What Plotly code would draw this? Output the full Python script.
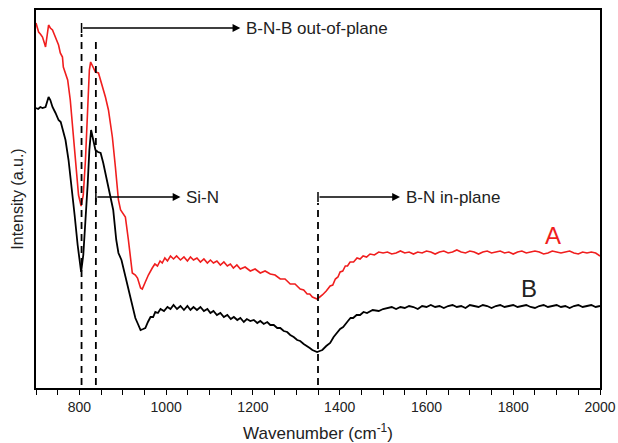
import plotly.graph_objects as go

# ---------------- data ----------------
wn_a = [700, 706, 710, 715, 720, 722, 729, 733, 738, 745, 752, 756, 761, 763, 773, 779, 786, 793, 798,
        804, 809, 814, 819, 823, 826, 830, 837, 844, 849, 853, 860, 867, 872, 876, 883, 890, 895, 906,
        913, 918, 922, 929, 934, 941, 945, 952, 959, 968, 974, 980, 986, 991, 997, 1003, 1010, 1017, 1024,
        1033, 1041, 1049, 1056, 1063, 1071, 1079, 1087, 1095, 1102, 1109, 1117, 1125, 1133, 1141, 1148,
        1155, 1163, 1171, 1182, 1194, 1205, 1217, 1228, 1240, 1251, 1263, 1274, 1286, 1297, 1309, 1317,
        1325, 1331, 1337, 1343, 1348, 1354, 1360, 1369, 1378, 1384, 1390, 1396, 1401, 1407, 1413, 1418,
        1424, 1432, 1440, 1447, 1454, 1462, 1470, 1480, 1490]
int_a = [365, 356, 354, 351, 344, 341, 363, 360, 358, 351, 343, 335, 331, 321, 308, 288, 255, 218, 193,
         182, 193, 228, 278, 318, 326, 322, 316, 315, 308, 301, 291, 278, 263, 251, 221, 188, 178, 171,
         148, 128, 115, 113, 110, 100, 99, 106, 113, 120, 124, 122, 127, 125, 130, 127, 132, 129, 132,
         128, 131, 127, 131, 128, 130, 126, 129, 125, 128, 125, 127, 123, 126, 122, 124,
         120, 123, 119, 121, 117, 119, 115, 117, 114, 113, 109, 109, 104, 104, 99, 98,
         94, 94, 91, 90, 89, 91, 93, 97, 102, 103, 109, 111, 116, 117, 122, 122,
         126, 126, 130, 129, 132, 131, 134, 133, 136]

wn_b = [700, 705, 710, 715, 722, 729, 733, 738, 745, 752, 757, 761, 768, 775, 782, 789, 796, 800,
        804, 809, 814, 819, 823, 827, 832, 837, 843, 849, 855, 861, 867, 872, 878, 885, 890, 897, 906,
        913, 918, 923, 929, 935, 941, 947, 952, 958, 964, 970, 975, 981, 987, 995, 1003, 1010, 1017,
        1025, 1033, 1041, 1049, 1056, 1063, 1071, 1079, 1087, 1095, 1102, 1109, 1117, 1125, 1133,
        1141, 1149, 1156, 1164, 1171, 1179, 1186, 1194, 1202, 1210, 1217, 1225, 1233, 1240, 1248, 1256,
        1263, 1271, 1279, 1286, 1294, 1302, 1309, 1317, 1325, 1331, 1337, 1343, 1348,
        1354, 1360, 1369, 1378, 1386, 1394, 1401, 1408, 1414, 1419, 1425, 1431, 1439, 1447, 1455, 1463,
        1476, 1490]
int_b = [280, 279, 281, 280, 281, 291, 288, 281, 275, 268, 266, 260, 248, 228, 203, 173, 143, 126,
         116, 133, 163, 203, 238, 258, 248, 238, 236, 235, 225, 213, 201, 188, 178, 148, 135, 128, 111,
         98, 88, 78, 70, 64, 58, 59, 60, 66, 71, 71, 76, 75, 79, 77, 81, 79, 83,
         79, 82, 78, 82, 78, 81, 78, 81, 77, 79, 75, 77, 73, 75, 71,
         73, 69, 71, 68, 70, 66, 69, 67, 68, 65, 67, 64, 66, 63, 63, 60,
         60, 57, 56, 53, 51, 48, 47, 44, 42, 40, 38, 37, 36,
         37, 38, 42, 45, 51, 55, 59, 61, 65, 67, 70, 70, 73, 73, 76, 75,
         78, 77]

# flat tail region 1500-2000 (every 10 cm-1)
wn_tail = list(range(1500, 2001, 10))
int_a_tail = [135, 136, 134, 135, 137, 135, 136, 134, 136, 135, 137, 136, 134, 136, 137, 135, 136, 138,
              136, 135, 137, 136, 134, 136, 137, 135, 136, 137, 135, 136, 134, 136, 137, 135, 136, 137,
              136, 134, 135, 137, 136, 135, 136, 137, 135, 134, 136, 135, 136, 135, 132]
int_b_tail = [79, 80, 81, 79, 81, 80, 82, 81, 79, 82, 81, 83, 81, 82, 80, 82, 83, 81, 82, 80, 83, 82,
              81, 83, 82, 80, 82, 83, 81, 82, 83, 81, 82, 83, 81, 80, 82, 83, 81, 82, 83, 81, 82, 80,
              82, 83, 81, 82, 83, 81, 82]

# marker positions (cm-1) and labels
band_bnb = 805
band_sin = 838
band_bn = 1350
label_bnb = "B-N-B out-of-plane"
label_sin = "Si-N"
label_bn = "B-N in-plane"

x_tick_vals = list(range(700, 2001, 50))
x_tick_text = [str(v) if v % 200 == 0 else "" for v in x_tick_vals]

# ---------------- figure ----------------
FONT = "Liberation Sans, Arial, sans-serif"
TXT = "#222222"
RED = "#f01e1e"

fig = go.Figure()
fig.add_trace(go.Scatter(x=wn_a + wn_tail, y=int_a + int_a_tail, mode="lines",
                         line=dict(color=RED, width=1.6), name="A", showlegend=False))
fig.add_trace(go.Scatter(x=wn_b + wn_tail, y=int_b + int_b_tail, mode="lines",
                         line=dict(color="#000000", width=1.8), name="B", showlegend=False))

y_bottom = 3
arrow_top = 360
arrow_mid = 191

# dashed band markers
for xb, ytop in [(band_bnb, arrow_top - 6), (band_sin, 346), (band_bn, arrow_mid - 6)]:
    fig.add_shape(type="line", xref="x", yref="y", x0=xb, x1=xb, y0=y_bottom, y1=ytop,
                  line=dict(color="black", width=1.8, dash="7px,5px"))

# caps + arrows + labels
for xb, ya, xend, text in [(band_bnb, arrow_top, 1171, label_bnb),
                           (band_sin, arrow_mid, 1033, label_sin),
                           (band_bn, arrow_mid, 1539, label_bn)]:
    fig.add_shape(type="line", xref="x", yref="y", x0=xb, x1=xb, y0=ya - 5, y1=ya + 5,
                  line=dict(color="black", width=1.5))
    fig.add_annotation(x=xend, y=ya, ax=xb, ay=ya, xref="x", yref="y", axref="x", ayref="y",
                       text="", showarrow=True, arrowhead=2, arrowsize=1.2, arrowwidth=1.3,
                       arrowcolor="black")
    fig.add_annotation(x=xend + 9, y=ya, xref="x", yref="y", text=text, showarrow=False,
                       xanchor="left", yanchor="middle", font=dict(family=FONT, size=17, color=TXT))

fig.add_annotation(x=1892, y=153, xref="x", yref="y", text="A", showarrow=False,
                   font=dict(family=FONT, size=24, color=RED))
fig.add_annotation(x=1837, y=100, xref="x", yref="y", text="B", showarrow=False,
                   font=dict(family=FONT, size=24, color=TXT))

fig.update_layout(
    width=618, height=443,
    margin=dict(l=36, r=18, t=10, b=55),
    paper_bgcolor="white", plot_bgcolor="white",
    font=dict(family=FONT, color=TXT),
    xaxis=dict(range=[700, 2000], tickmode="array", tickvals=x_tick_vals, ticktext=x_tick_text,
               ticks="outside", ticklen=5, tickwidth=1.2, tickcolor="black",
               showline=True, linecolor="black", linewidth=1.5, mirror=True, automargin=False,
               showgrid=False, zeroline=False, tickfont=dict(size=14, color=TXT),
               title=dict(text="Wavenumber (cm<sup>-1</sup>)", font=dict(size=17, color=TXT))),
    yaxis=dict(range=[0, 378], showticklabels=False, ticks="", automargin=True,
               showline=True, linecolor="black", linewidth=1.5, mirror=True,
               showgrid=False, zeroline=False,
               title=dict(text="Intensity (a.u.)", font=dict(size=16, color=TXT), standoff=7)),
)

fig.write_html("out.html", config={"displayModeBar": False},
               post_script="document.body.style.margin='0';document.body.style.overflow='hidden';")
